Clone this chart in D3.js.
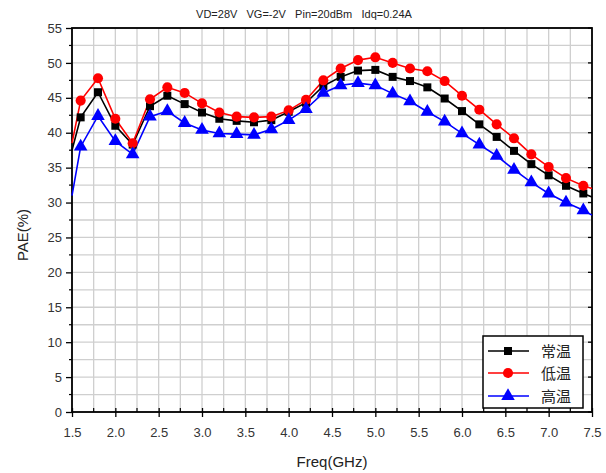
<!DOCTYPE html>
<html><head><meta charset="utf-8">
<script src="https://cdn.jsdelivr.net/npm/d3@7"></script>
<style>body{margin:0;background:#fff}svg{display:block}</style>
</head><body><svg id="c" width="606" height="473"></svg>
<script>
const freq = [1.5,1.6,1.8,2.0,2.2,2.4,2.6,2.8,3.0,3.2,3.4,3.6,3.8,4.0,4.2,4.4,4.6,4.8,5.0,5.2,5.4,5.6,5.8,6.0,6.2,6.4,6.6,6.8,7.0,7.2,7.4,7.5];
const normal = [37.5,42.2,45.8,41.0,38.3,43.8,45.3,44.1,42.9,42.0,41.7,41.5,41.8,43.0,44.3,46.7,48.0,48.9,49.0,48.0,47.4,46.5,44.9,43.1,41.2,39.4,37.4,35.5,33.9,32.4,31.3,30.8];
const low = [38.5,44.6,47.8,42.0,38.5,44.8,46.5,45.7,44.2,42.9,42.3,42.2,42.3,43.2,44.7,47.5,49.2,50.4,50.8,50.0,49.2,48.8,47.4,45.3,43.3,41.2,39.2,36.9,35.1,33.5,32.4,32.0];
const high = [31.0,38.0,42.4,38.8,36.9,42.3,43.1,41.4,40.4,39.9,39.8,39.7,40.5,41.8,43.4,45.7,46.8,47.1,46.8,45.6,44.5,43.0,41.6,39.9,38.3,36.7,34.7,32.9,31.3,30.0,28.9,28.2];
const xTicks = [1.5,2.0,2.5,3.0,3.5,4.0,4.5,5.0,5.5,6.0,6.5,7.0,7.5];
const yTicks = [0,5,10,15,20,25,30,35,40,45,50,55];
const seriesNames = ["常温","低温","高温"];
const title = "VD=28V   VG=-2V   Pin=20dBm   Idq=0.24A";

const svg = d3.select("#c");
const L=72,R=592,T=28,B=412;
const x = d3.scaleLinear().domain([1.5,7.5]).range([L,R]);
const y = d3.scaleLinear().domain([0,55]).range([B,T]);

// grid
const xg = d3.range(1.5,7.5001,0.25), yg = d3.range(0,55.001,2.5);
svg.append("g").selectAll("line").data(xg).join("line")
  .attr("x1",d=>x(d)).attr("x2",d=>x(d)).attr("y1",T).attr("y2",B)
  .attr("stroke","#cfcfcf").attr("stroke-width",1.3);
svg.append("g").selectAll("line").data(yg).join("line")
  .attr("y1",d=>y(d)).attr("y2",d=>y(d)).attr("x1",L).attr("x2",R)
  .attr("stroke","#cfcfcf").attr("stroke-width",1.3);

// axes
const font = "Arial, 'Liberation Sans', sans-serif";
const ax = svg.append("g").attr("transform",`translate(0,${B})`)
  .call(d3.axisBottom(x).tickValues(xTicks).tickFormat(d3.format(".1f")).tickSize(5).tickPadding(11));
ax.selectAll("text").attr("font-family",font).attr("font-size",13).attr("fill","#333");
ax.select(".domain").remove();
ax.selectAll("line").attr("y1",-4).attr("stroke-width",1.3);
svg.append("g").attr("transform",`translate(0,${B})`).selectAll("line")
  .data(xTicks.slice(0,-1).map(d=>d+0.25)).join("line")
  .attr("x1",d=>x(d)).attr("x2",d=>x(d)).attr("y1",0).attr("y2",-4).attr("stroke","#000").attr("stroke-width",1.2);

const ay = svg.append("g").attr("transform",`translate(${L},0)`)
  .call(d3.axisLeft(y).tickValues(yTicks).tickSize(6).tickPadding(4));
ay.selectAll("text").attr("font-family",font).attr("font-size",13).attr("fill","#333");
ay.select(".domain").remove();
ay.selectAll("line").attr("stroke-width",1.3);
svg.append("g").attr("transform",`translate(${L},0)`).selectAll("line")
  .data(yTicks.slice(0,-1).map(d=>d+2.5)).join("line")
  .attr("y1",d=>y(d)).attr("y2",d=>y(d)).attr("x1",0).attr("x2",-3).attr("stroke","#000").attr("stroke-width",1.2);
svg.append("g").attr("transform",`translate(${R},0)`).selectAll("line")
  .data(yTicks).join("line")
  .attr("y1",d=>y(d)).attr("y2",d=>y(d)).attr("x1",0).attr("x2",-4).attr("stroke","#000").attr("stroke-width",1.3);

// frame
svg.append("rect").attr("x",L).attr("y",T).attr("width",R-L).attr("height",B-T)
  .attr("fill","none").attr("stroke","#000").attr("stroke-width",1.8);

// series
const colors = ["#000000","#ff0000","#0000ff"];
const syms = [d3.symbolSquare,d3.symbolCircle,d3.symbolTriangle];
const sizes = [64,80,80];
const data = [normal,low,high];
const line = d3.line().x((d,i)=>x(freq[i])).y(d=>y(d));
[0,1,2].forEach(k=>{
  svg.append("path").datum(data[k]).attr("d",line).attr("fill","none")
    .attr("stroke",colors[k]).attr("stroke-width",1.6);
});
[0,1,2].forEach(k=>{
  svg.append("g").selectAll("path").data(data[k].map((v,i)=>[freq[i],v]).filter(d=>d[0]>1.5&&d[0]<7.5))
    .join("path").attr("d",d3.symbol().type(syms[k]).size(sizes[k]))
    .attr("transform",d=>`translate(${x(d[0])},${y(d[1])})`).attr("fill",colors[k]);
});

// legend
const lg = svg.append("g");
lg.append("rect").attr("x",483).attr("y",336).attr("width",100).attr("height",72)
  .attr("fill","#fff").attr("stroke","#000").attr("stroke-width",1.5);
const ly = [351,373,396];
seriesNames.forEach((n,k)=>{
  lg.append("line").attr("x1",488).attr("x2",529).attr("y1",ly[k]).attr("y2",ly[k])
    .attr("stroke",colors[k]).attr("stroke-width",1.6);
  lg.append("path").attr("d",d3.symbol().type(syms[k]).size(sizes[k])())
    .attr("transform",`translate(508,${ly[k]})`).attr("fill",colors[k]);
  lg.append("text").attr("x",541).attr("y",ly[k]+5.5).text(n)
    .attr("font-family","'Noto Sans CJK SC'").attr("font-size",15).attr("fill","#222");
});

// titles
svg.append("text").attr("x",304).attr("y",18).attr("text-anchor","middle").attr("xml:space","preserve")
  .style("white-space","pre").attr("font-family",font).attr("font-size",11).attr("fill","#222").text(title);
svg.append("text").attr("x",332).attr("y",467).attr("text-anchor","middle")
  .attr("font-family",font).attr("font-size",15).attr("fill","#222").text("Freq(GHz)");
svg.append("text").attr("transform","translate(28,235) rotate(-90)").attr("text-anchor","middle")
  .attr("font-family",font).attr("font-size",15).attr("fill","#222").text("PAE(%)");
</script></body></html>
